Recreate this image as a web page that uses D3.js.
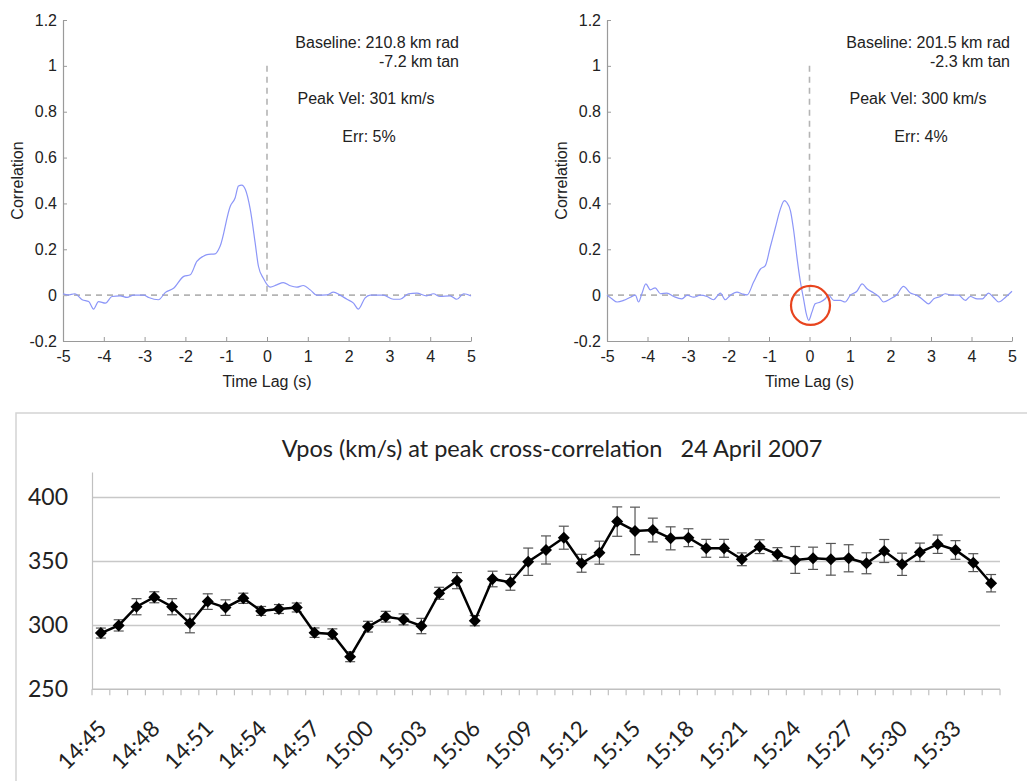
<!DOCTYPE html>
<html>
<head>
<meta charset="utf-8">
<script src="https://cdn.jsdelivr.net/npm/d3@7"></script>
<style>
  html, body { margin: 0; padding: 0; background: #fff; }
  svg { display: block; }
</style>
</head>
<body>
<div id="chart"></div>
<script>
// ---- Data: cross-correlation curves ----
const lagA = [-5, -4.88, -4.71, -4.53, -4.37, -4.25, -4.13, -3.96, -3.8, -3.6, -3.43, -3.27, -3.02, -2.9, -2.66,
  -2.49, -2.29, -2.04, -1.88, -1.72, -1.56, -1.47, -1.27, -1.15, -0.9, -0.78, -0.7, -0.62, -0.53, -0.41,
  -0.29, -0.21, -0.09, 0.08, 0.24, 0.4, 0.57, 0.73, 0.89, 1.06, 1.22, 1.47, 1.63, 1.79, 1.96, 2.12, 2.24,
  2.4, 2.53, 2.85, 3.1, 3.26, 3.47, 3.67, 3.91, 4.08, 4.24, 4.49, 4.65, 4.82, 5];
const corrA = [0.006, 0.001, 0.006, -0.02, -0.028, -0.061, -0.028, -0.035, -0.006, -0.003, -0.01, 0, 0, -0.01, -0.02,
  0.012, 0.03, 0.082, 0.089, 0.147, 0.17, 0.177, 0.18, 0.213, 0.388, 0.425, 0.476, 0.48, 0.461, 0.374,
  0.228, 0.126, 0.074, 0.035, 0.045, 0.055, 0.041, 0.035, 0.042, 0.023, 0, 0.001, 0.013, 0, -0.018, -0.035, -0.061,
  -0.013, 0, 0, -0.018, -0.018, 0.006, 0.009, -0.003, 0.006, -0.006, -0.003, -0.018, 0.006, -0.003];

const lagB = [-5, -4.88, -4.75, -4.59, -4.42, -4.3, -4.22, -4.14, -4.04, -3.93, -3.81, -3.68, -3.52, -3.35, -3.15,
  -3.02, -2.86, -2.7, -2.53, -2.37, -2.2, -2.08, -1.95, -1.79, -1.67, -1.54, -1.38, -1.21, -1.09, -0.97,
  -0.84, -0.72, -0.62, -0.56, -0.47, -0.39, -0.31, -0.23, -0.14, -0.08, -0.02, 0.06, 0.14, 0.27, 0.39, 0.47,
  0.6, 0.76, 0.88, 1.01, 1.17, 1.3, 1.42, 1.58, 1.71, 1.83, 2.0, 2.16, 2.32, 2.49, 2.65, 2.82, 2.94, 3.07,
  3.23, 3.35, 3.52, 3.68, 3.85, 3.97, 4.14, 4.27, 4.42, 4.54, 4.67, 4.84, 5];
const corrB = [0, -0.016, -0.03, -0.023, -0.009, 0, -0.03, 0.006, 0.049, 0.023, 0.032, 0.006, 0.009, -0.006, -0.016,
  0, -0.009, 0, -0.006, -0.02, 0.009, -0.02, 0, 0.013, 0.006, 0.001, 0.057, 0.114, 0.129, 0.209,
  0.296, 0.375, 0.412, 0.404, 0.368, 0.281, 0.165, 0.064, -0.023, -0.081, -0.11, -0.074, -0.038, -0.03, -0.016, 0,
  -0.023, -0.023, -0.03, 0, 0.017, 0.049, 0.028, 0.01, -0.006, -0.03, -0.016, 0.003, 0.038, 0.009, 0, -0.023, -0.038, -0.016,
  -0.006, 0.006, 0, 0, -0.023, -0.006, -0.016, -0.016, 0.009, -0.009, -0.03, -0.009, 0.017];

const corrTicksY = [-0.2, 0, 0.2, 0.4, 0.6, 0.8, 1, 1.2];
const lagTicksX = [-5, -4, -3, -2, -1, 0, 1, 2, 3, 4, 5];

const notesA = ['Baseline: 210.8 km rad', '-7.2 km tan', 'Peak Vel: 301 km/s', 'Err: 5%'];
const notesB = ['Baseline: 201.5 km rad', '-2.3 km tan', 'Peak Vel: 300 km/s', 'Err: 4%'];

// ---- Data: Vpos per minute, 14:45 .. 15:35 ----
const vpos = [294, 300, 314.6, 322, 314.6, 301.6, 318.6, 313.9, 321.2, 311.3,
  312.8, 314, 294.3, 293.3, 275.5, 299, 306.8, 304.7, 299.5, 325.1,
  335, 303.7, 336.3, 333.7, 349.8, 359, 368.6, 348.6, 356.9, 381.2,
  373.9, 374.6, 368.1, 368.6, 360.3, 360.3, 351.7, 361.6, 355.6, 351.2,
  352.5, 351.7, 352.5, 348.6, 358.2, 347.8, 357.2, 363.5, 359, 349.1, 333];
const vposErr = [3.9, 4.4, 6.3, 4.3, 6.3, 7.4, 6.1, 6.1, 4, 3.5,
  3.5, 3.5, 3.7, 4, 3.9, 4.2, 4.2, 4.3, 6, 4.7,
  6.3, 4, 6.1, 6.2, 10.7, 11, 9, 7, 9, 11.5,
  18.6, 9.3, 9, 7, 7, 7, 5, 5.4, 5.2, 10.5,
  8.7, 12.4, 10.6, 8.2, 9, 8.7, 7.2, 7.2, 7.3, 7, 6.8];
const timeLabels = ['14:45', '14:48', '14:51', '14:54', '14:57', '15:00', '15:03', '15:06', '15:09',
  '15:12', '15:15', '15:18', '15:21', '15:24', '15:27', '15:30', '15:33'];
const vposTicks = [250, 300, 350, 400];

const W = 1027, H = 781;
const svg = d3.select('#chart').append('svg')
  .attr('width', W).attr('height', H)
  .attr('viewBox', [0, 0, W, H]);

const arial = 'Liberation Sans, Arial, sans-serif';
const calib = 'Lato, Open Sans, sans-serif';

// ---- Correlation panel ----
function corrPanel(lags, corrs, notes, x0, x1, noteRight, noteCenter) {
  const x = d3.scaleLinear().domain([-5, 5]).range([x0, x1]);
  const y = d3.scaleLinear().domain([-0.2, 1.2]).range([341, 20]);
  const g = svg.append('g');

  const yAxis = g.append('g')
    .attr('transform', `translate(${x0},0)`)
    .call(d3.axisLeft(y).tickValues(corrTicksY).tickSizeInner(-4).tickSizeOuter(0).tickPadding(6)
      .tickFormat(d => String(+d.toFixed(1))));
  const xAxis = g.append('g')
    .attr('transform', `translate(0,${y(-0.2)})`)
    .call(d3.axisBottom(x).tickValues(lagTicksX).tickSizeInner(-4).tickSizeOuter(0).tickPadding(10)
      .tickFormat(d => String(d)));
  [yAxis, xAxis].forEach(a => {
    a.select('.domain').attr('stroke', '#9a9a9a').attr('stroke-width', 1.2);
    a.selectAll('.tick line').attr('stroke', '#9a9a9a');
    a.selectAll('text').attr('font-family', arial).attr('font-size', 16).attr('fill', '#222');
  });

  // zero reference lines
  g.append('line')
    .attr('x1', x(-5)).attr('x2', x(5)).attr('y1', y(0)).attr('y2', y(0))
    .attr('stroke', '#b4b4b4').attr('stroke-width', 1.6).attr('stroke-dasharray', '6,5');
  g.append('line')
    .attr('x1', x(0)).attr('x2', x(0)).attr('y1', y(1)).attr('y2', y(0))
    .attr('stroke', '#b4b4b4').attr('stroke-width', 1.6).attr('stroke-dasharray', '6,5');

  const pts = lags.map((t, i) => [t, corrs[i]]);
  g.append('path')
    .datum(pts)
    .attr('fill', 'none')
    .attr('stroke', '#8c96f8')
    .attr('stroke-width', 1.2)
    .attr('d', d3.line().x(d => x(d[0])).y(d => y(d[1])).curve(d3.curveMonotoneX));

  g.append('text')
    .attr('transform', `translate(${x0 - 40},${(y(-0.2) + y(1.2)) / 2}) rotate(-90)`)
    .attr('text-anchor', 'middle')
    .attr('font-family', arial).attr('font-size', 16).attr('fill', '#222')
    .text('Correlation');
  g.append('text')
    .attr('x', (x0 + x1) / 2).attr('y', 387)
    .attr('text-anchor', 'middle')
    .attr('font-family', arial).attr('font-size', 16).attr('fill', '#222')
    .text('Time Lag (s)');

  const nt = g.append('g').attr('font-family', arial).attr('font-size', 16).attr('fill', '#222');
  nt.append('text').attr('x', noteRight).attr('y', 48).attr('text-anchor', 'end').text(notes[0]);
  nt.append('text').attr('x', noteRight).attr('y', 67).attr('text-anchor', 'end').text(notes[1]);
  nt.append('text').attr('x', noteCenter).attr('y', 104).attr('text-anchor', 'middle').text(notes[2]);
  nt.append('text').attr('x', noteCenter + 3).attr('y', 142).attr('text-anchor', 'middle').text(notes[3]);
  return { x, y };
}

corrPanel(lagA, corrA, notesA, 63, 471, 459, 366);
const right = corrPanel(lagB, corrB, notesB, 607, 1012, 1010, 918);

// red circle around the negative dip
svg.append('circle')
  .attr('cx', right.x(0) + 1).attr('cy', right.y(-0.045))
  .attr('r', 19.5)
  .attr('fill', 'none').attr('stroke', '#e8441e').attr('stroke-width', 2.2);

// ---- Vpos panel ----
svg.append('rect')
  .attr('x', 16).attr('y', 413).attr('width', 1040).attr('height', 400)
  .attr('fill', 'none').attr('stroke', '#d4d4d4').attr('stroke-width', 1.5);

svg.append('text')
  .attr('x', 552).attr('y', 457)
  .attr('text-anchor', 'middle')
  .attr('font-family', calib).attr('font-size', 23.5).attr('fill', '#222')
  .attr('xml:space', 'preserve')
  .text('Vpos (km/s) at peak cross-correlation   24 April 2007');

const xb = d3.scaleBand().domain(d3.range(vpos.length)).range([92, 1000]).padding(0);
const yb = d3.scaleLinear().domain([250, 420]).range([689.3, 472]);

const grid = svg.append('g');
grid.selectAll('line')
  .data(vposTicks.filter(v => v > 250))
  .join('line')
  .attr('x1', 92).attr('x2', 1000)
  .attr('y1', d => yb(d)).attr('y2', d => yb(d))
  .attr('stroke', '#c8c8c8').attr('stroke-width', 1.5);

const yAx = svg.append('g')
  .attr('transform', 'translate(92,0)')
  .call(d3.axisLeft(yb).tickValues(vposTicks).tickSize(0).tickPadding(24));
yAx.select('.domain').attr('stroke', '#c0c0c0').attr('stroke-width', 1.2);
yAx.selectAll('text').attr('font-family', calib).attr('font-size', 23).attr('fill', '#222');

// x axis line + category boundary ticks
const xAx = svg.append('g');
xAx.append('line')
  .attr('x1', 92).attr('x2', 1000).attr('y1', yb(250)).attr('y2', yb(250))
  .attr('stroke', '#c0c0c0').attr('stroke-width', 1.5);
xAx.selectAll('.tk')
  .data(d3.range(vpos.length + 1))
  .join('line')
  .attr('class', 'tk')
  .attr('x1', i => 92 + i * xb.bandwidth()).attr('x2', i => 92 + i * xb.bandwidth())
  .attr('y1', yb(250)).attr('y2', yb(250) + 6)
  .attr('stroke', '#c0c0c0').attr('stroke-width', 1.2);
xAx.selectAll('.lbl')
  .data(timeLabels)
  .join('text')
  .attr('class', 'lbl')
  .attr('transform', (d, i) => `translate(${xb(i * 3) + xb.bandwidth() / 2 + 7},730) rotate(-45)`)
  .attr('text-anchor', 'end')
  .attr('font-family', calib).attr('font-size', 22.5).attr('fill', '#222')
  .text(d => d);

const cx = i => xb(i) + xb.bandwidth() / 2;

// error bars
const eb = svg.append('g').attr('stroke', '#555').attr('stroke-width', 1.2);
vpos.forEach((v, i) => {
  const lo = yb(v - vposErr[i]), hi = yb(v + vposErr[i]);
  eb.append('line').attr('x1', cx(i)).attr('x2', cx(i)).attr('y1', lo).attr('y2', hi);
  eb.append('line').attr('x1', cx(i) - 5).attr('x2', cx(i) + 5).attr('y1', lo).attr('y2', lo);
  eb.append('line').attr('x1', cx(i) - 5).attr('x2', cx(i) + 5).attr('y1', hi).attr('y2', hi);
});

svg.append('path')
  .datum(vpos)
  .attr('fill', 'none').attr('stroke', '#000').attr('stroke-width', 2.5)
  .attr('d', d3.line().x((d, i) => cx(i)).y(d => yb(d)));

svg.append('g').selectAll('path')
  .data(vpos)
  .join('path')
  .attr('transform', (d, i) => `translate(${cx(i)},${yb(d)}) rotate(45)`)
  .attr('d', d3.symbol(d3.symbolSquare, 72))
  .attr('fill', '#000');
</script>
</body>
</html>
